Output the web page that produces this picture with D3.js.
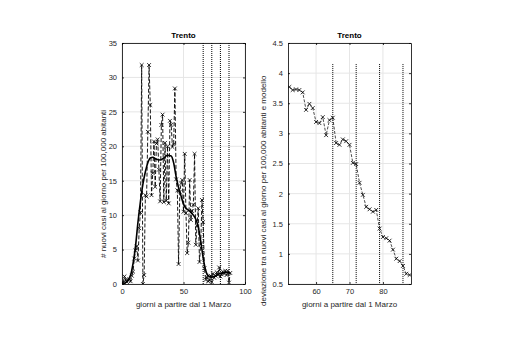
<!DOCTYPE html>
<html><head><meta charset="utf-8">
<script src="https://cdn.jsdelivr.net/npm/d3@7"></script>
<style>body{margin:0;background:#fff}svg{display:block}text{font-family:"Liberation Sans",Arial,sans-serif}</style>
</head><body>
<script>
// ---------- data ----------
const titleLeft = "Trento";
const titleRight = "Trento";
const xLabel = "giorni a partire dal 1 Marzo";
const yLabelLeft = "# nuovi casi al giorno per 100,000 abitanti";
const yLabelRight = "deviazione tra nuovi casi al giorno per 100,000 abitanti e modello";

const rawDays = d3.range(1, 89);
const rawCases = [0.2,1.1,0.6,0.3,0.5,0.7,0.4,1.2,1.8,3.7,4.9,5.5,3.4,8.1,10.4,31.8,0.0,1.3,12.9,12.7,
  22.1,31.8,26.0,12.9,16.1,20.7,14.1,20.4,21.0,16.6,12.0,23.1,24.6,11.9,20.5,12.1,20.0,11.7,23.7,23.1,
  19.9,20.3,28.4,15.2,13.6,2.9,13.4,14.6,15.1,10.5,18.9,10.3,4.5,6.0,15.1,9.3,10.6,11.5,18.9,5.7,
  8.4,11.0,3.2,5.8,12.2,9.0,2.3,0.6,1.0,0.4,0.5,1.2,0.3,1.5,0.9,1.2,1.7,1.3,2.4,1.1,
  1.4,1.8,1.5,1.9,1.3,1.9,0.2,1.6];

const smoothDays = [1,4,7,9,11,13,15,17,19,21,23,25,28,31,34,37,40,42,44,46,48,50,52,54,56,58,60,62,64,66,68,70,73,76,79,82,85,88];
const smoothCases = [0.0,0.4,1.3,3.0,5.5,9.0,12.0,14.5,16.3,17.6,18.3,18.4,18.1,18.0,18.3,18.7,18.6,17.6,15.6,14.0,12.8,11.6,11.0,10.7,10.4,10.0,9.4,8.3,6.2,3.8,2.0,1.2,1.0,1.2,1.5,1.6,1.7,1.6];

const devDays = d3.range(52, 89);
const devValues = [3.77,3.72,3.73,3.72,3.68,3.39,3.49,3.42,3.19,3.17,3.27,2.97,3.22,3.26,2.84,2.81,2.90,2.87,2.81,2.51,
  2.49,2.18,1.98,1.78,1.74,1.70,1.73,1.42,1.28,1.26,1.22,1.07,0.92,0.88,0.80,0.67,0.65];

const weekLinesLeft = [66,73,80,87];
const weekLinesRight = [65,72,79,86];

const xTicksLeft = [0,50,100];
const yTicksLeft = [0,5,10,15,20,25,30,35];
const xTicksRight = [60,70,80];
const yTicksRight = [0.5,1,1.5,2,2.5,3,3.5,4,4.5];

// ---------- drawing ----------
const W = 519, H = 361;
const svg = d3.select("body").append("svg").attr("width", W).attr("height", H);

function panel(o){
  const g = svg.append("g");
  const x = d3.scaleLinear().domain(o.xDom).range([o.left, o.right]);
  const y = d3.scaleLinear().domain(o.yDom).range([o.bottom, o.top]);
  // grid
  g.append("g").selectAll("line").data(o.xTicks).join("line")
    .attr("x1", d=>x(d)).attr("x2", d=>x(d)).attr("y1", o.top).attr("y2", o.bottom)
    .attr("stroke", "#e6e6e6").attr("stroke-width", 1);
  g.append("g").selectAll("line").data(o.yTicks).join("line")
    .attr("y1", d=>y(d)).attr("y2", d=>y(d)).attr("x1", o.left).attr("x2", o.right)
    .attr("stroke", "#e6e6e6").attr("stroke-width", 1);
  // clip
  const cid = "clip" + o.id;
  svg.append("clipPath").attr("id", cid).append("rect")
    .attr("x", o.left).attr("y", o.top).attr("width", o.right-o.left).attr("height", o.bottom-o.top);
  const pg = g.append("g").attr("clip-path", `url(#${cid})`);
  // weekly dotted lines
  pg.selectAll("line.wk").data(o.weeks).join("line")
    .attr("x1", d=>x(d)).attr("x2", d=>x(d)).attr("y1", y(o.weekTop)).attr("y2", y(o.weekBot))
    .attr("stroke", "#000").attr("stroke-width", 1).attr("stroke-dasharray", "1,1");
  // series
  o.series(pg, x, y);
  // axes
  const ax = (gen, tr) => g.append("g").attr("transform", tr).call(gen)
    .call(s => s.select(".domain").attr("stroke", "#000").attr("stroke-width", 0.8))
    .call(s => s.selectAll(".tick line").attr("stroke", "#000").attr("stroke-width", 0.8))
    .call(s => s.selectAll(".tick text").attr("fill", "#262626").attr("font-size", 7.5));
  ax(d3.axisBottom(x).tickValues(o.xTicks).tickSize(-2).tickSizeOuter(0).tickPadding(5).tickFormat(d3.format("")), `translate(0,${o.bottom})`);
  ax(d3.axisTop(x).tickValues(o.xTicks).tickSize(-2).tickSizeOuter(0).tickFormat(""), `translate(0,${o.top})`);
  ax(d3.axisLeft(y).tickValues(o.yTicks).tickSize(-2).tickSizeOuter(0).tickPadding(5).tickFormat(d3.format("")), `translate(${o.left},0)`);
  ax(d3.axisRight(y).tickValues(o.yTicks).tickSize(-2).tickSizeOuter(0).tickFormat(""), `translate(${o.right},0)`);
  // labels
  const cx = (o.left + o.right)/2;
  svg.append("text").attr("x", cx).attr("y", o.top - 5).attr("text-anchor", "middle")
    .attr("font-size", 8).attr("font-weight", "bold").attr("fill", "#000").text(o.title);
  svg.append("text").attr("x", cx).attr("y", o.bottom + 23).attr("text-anchor", "middle")
    .attr("font-size", 8).attr("fill", "#262626").text(xLabel);
  svg.append("text").attr("transform", `translate(${o.yLabX},${o.yLabY}) rotate(-90)`)
    .attr("text-anchor", "start").attr("font-size", 8).attr("fill", "#262626").text(o.yLabel);
}

function xMarks(g, data, x, y){
  const s = 1.9;
  g.append("g").selectAll("path").data(data).join("path")
    .attr("d", d => { const px = x(d[0]), py = y(d[1]);
      return `M${px-s},${py-s}L${px+s},${py+s}M${px-s},${py+s}L${px+s},${py-s}`; })
    .attr("stroke", "#000").attr("stroke-width", 0.8).attr("fill", "none");
}

panel({
  id: "L", left: 122, right: 245, top: 43, bottom: 284,
  xDom: [0, 100], yDom: [0, 35], xTicks: xTicksLeft, yTicks: yTicksLeft,
  weeks: weekLinesLeft, weekTop: 35, weekBot: 0, title: titleLeft,
  yLabel: yLabelLeft, yLabX: 106, yLabY: 258,
  series: (g, x, y) => {
    const pts = rawDays.map((d,i)=>[d, rawCases[i]]);
    g.append("path").datum(pts).attr("d", d3.line().x(d=>x(d[0])).y(d=>y(d[1])))
      .attr("fill", "none").attr("stroke", "#000").attr("stroke-width", 0.9).attr("stroke-dasharray", "4,2");
    xMarks(g, pts, x, y);
    const sm = smoothDays.map((d,i)=>[d, smoothCases[i]]);
    g.append("path").datum(sm).attr("d", d3.line().curve(d3.curveMonotoneX).x(d=>x(d[0])).y(d=>y(d[1])))
      .attr("fill", "none").attr("stroke", "#000").attr("stroke-width", 1.6);
  }
});

panel({
  id: "R", left: 288, right: 411, top: 43, bottom: 284,
  xDom: [51.6, 88.4], yDom: [0.5, 4.5], xTicks: xTicksRight, yTicks: yTicksRight,
  weeks: weekLinesRight, weekTop: 4.15, weekBot: 0.5, title: titleRight,
  yLabel: yLabelRight, yLabX: 266, yLabY: 306,
  series: (g, x, y) => {
    const pts = devDays.map((d,i)=>[d, devValues[i]]);
    g.append("path").datum(pts).attr("d", d3.line().x(d=>x(d[0])).y(d=>y(d[1])))
      .attr("fill", "none").attr("stroke", "#000").attr("stroke-width", 0.7).attr("stroke-dasharray", "3,1.5");
    xMarks(g, pts, x, y);
  }
});
</script>
</body></html>
